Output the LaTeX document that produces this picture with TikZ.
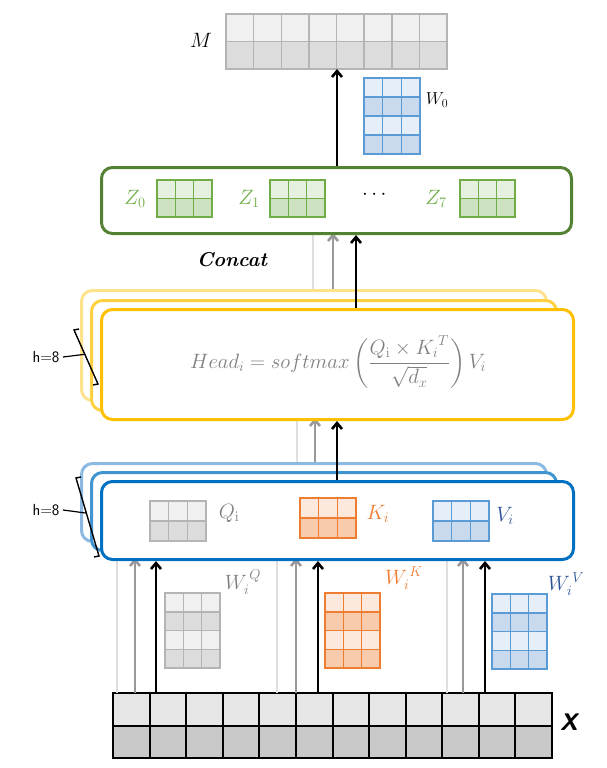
\documentclass[tikz,border=0pt]{standalone}
\usepackage{amsmath}
\usetikzlibrary{calc,arrows.meta}
\definecolor{gs}{HTML}{B4B4B4}\definecolor{g1}{HTML}{F0F0F0}\definecolor{g2}{HTML}{DCDCDC}
\definecolor{os}{HTML}{ED7D31}\definecolor{o1}{HTML}{FCE8DC}\definecolor{o2}{HTML}{F8CBAD}
\definecolor{bs}{HTML}{5B9BD5}\definecolor{b1}{HTML}{E6EEF9}\definecolor{b2}{HTML}{C9D9EE}
\definecolor{gr}{HTML}{70AD47}\definecolor{gr1}{HTML}{E6F0DE}\definecolor{gr2}{HTML}{CDE2C0}
\definecolor{grb}{HTML}{548235}\definecolor{yb}{HTML}{FFC000}\definecolor{bb}{HTML}{0070C0}
\definecolor{vb}{HTML}{2F5597}\definecolor{tx}{HTML}{808080}
\definecolor{xs1}{HTML}{E6E6E6}\definecolor{xs2}{HTML}{C8C8C8}
\newcommand\mygrid[7]{% name cols rows stroke fill1 fill2 width
 \foreach \r in {1,...,#3}{
  \pgfmathparse{isodd(\r)?"#5":"#6"}\edef\fc{\pgfmathresult}
  \fill[\fc] ($(#1.north west)!{(\r-1)/#3}!(#1.south west)$) rectangle ($(#1.north east)!{\r/#3}!(#1.south east)$);}
 \foreach \c in {1,...,#2}{\draw[#4,line width=#7] ($(#1.north west)!{\c/#2}!(#1.north east)$) -- ($(#1.south west)!{\c/#2}!(#1.south east)$);}
 \foreach \r in {1,...,#3}{\draw[#4,line width=#7] ($(#1.north west)!{\r/#3}!(#1.south west)$) -- ($(#1.north east)!{\r/#3}!(#1.south east)$);}
 \draw[#4,line width=#7] (#1.north west) rectangle (#1.south east);}
\tikzset{
 box/.style={draw,rounded corners=11pt,line width=3pt,fill=white,inner sep=0},
 mat/.style={inner sep=0,outer sep=0},
 arr/.style={line width=2.6pt,-{Straight Barb[length=6pt,width=10pt]}},
 blk/.style={arr,black}, gry/.style={arr,color=gray!80}, lgt/.style={line width=2.6pt,color=gray!25},
 big/.style={font=\fontsize{22}{24}\selectfont},
 mid/.style={font=\fontsize{18}{20}\selectfont},
 hl/.style={font=\sffamily\fontsize{16}{18}\selectfont},
}
\begin{document}
\begin{tikzpicture}[x=1pt,y=-1pt]
\useasboundingbox (0,0) rectangle (607,768);
% X
\node[mat,minimum width=439,minimum height=65,anchor=north west] (X) at (113,693) {};
\mygrid{X}{12}{2}{black}{xs1}{xs2}{2pt}
\node[font=\sffamily\bfseries\itshape\fontsize{24}{26}\selectfont] (XL) at (569,722) {X};
% blue boxes
\node[box,draw=bs!70,minimum width=465,minimum height=78,anchor=north west] (B3) at (80,462) {};
\node[box,draw=bb!75,minimum width=465,minimum height=78,anchor=north west] (B2) at (90,471) {};
\foreach \a/\b in {117/135,277/296,447/463}{
 \draw[lgt] ($(X.north west)+(\a-113,0)$) -- (\a,558);
 \draw[gry] ($(X.north west)+(\b-113,0)$) -- (\b,558);
}
\node[box,draw=bb,minimum width=472,minimum height=78,anchor=north west] (B1) at (100,480) {};
\foreach \c in {156,318,485}{\draw[blk] ($(X.north west)+(\c-113,0)$) -- (B1.south -| \c,0);}
% Q K V
\node[mat,minimum width=56,minimum height=40,anchor=north west] (Q) at (150,501) {};
\mygrid{Q}{3}{2}{gs}{g1}{g2}{1.5pt}
\node[text=tx,big] (QL) at (229,513) {$Q_{\mathrm{i}}$};
\node[mat,minimum width=56,minimum height=40,anchor=north west] (K) at (300,498) {};
\mygrid{K}{3}{2}{os}{o1}{o2}{1.5pt}
\node[text=os,big] (KL) at (378,514) {$K_i$};
\node[mat,minimum width=56,minimum height=40,anchor=north west] (V) at (433,501) {};
\mygrid{V}{3}{2}{bs}{b1}{b2}{1.5pt}
\node[text=vb,big] (VL) at (505,516) {$V_i$};
% W matrices
\node[mat,minimum width=55,minimum height=75,anchor=north west] (WQ) at (165,593) {};
\mygrid{WQ}{3}{4}{gs}{g1}{g2}{1.5pt}
\node[text=tx,big] (WQL) at (243,582) {$W_i^{\,Q}$};
\node[mat,minimum width=55,minimum height=75,anchor=north west] (WK) at (325,593) {};
\mygrid{WK}{3}{4}{os}{o1}{o2}{1.5pt}
\node[text=os,big] (WKL) at (404,578) {$W_i^{\,K}$};
\node[mat,minimum width=55,minimum height=75,anchor=north west] (WV) at (492,594) {};
\mygrid{WV}{3}{4}{bs}{b1}{b2}{1.5pt}
\node[text=vb,big] (WVL) at (566,584) {$W_i^{\,V}$};
% h=8 blue
\coordinate (bt) at (76,478); \coordinate (bb2) at (99,556);
\draw[line width=1.4pt] ($(bt)+(5,-1)$) -- (bt) -- (bb2) -- ($(bb2)+(-5,1)$);
\node[hl] (h2) at (46,510) {h=8};
\draw[line width=1.2pt] (h2.east) -- ($(bt)!0.45!(bb2)$);
% yellow boxes
\node[box,draw=yb!45,minimum width=465,minimum height=110,anchor=north west] (Y3) at (80,289) {};
\node[box,draw=yb!75,minimum width=465,minimum height=110,anchor=north west] (Y2) at (90,299) {};
\draw[lgt] (B3.north -| 297,0) -- (297,418);
\draw[gry] (B3.north -| 315,0) -- (315,418);
\node[box,draw=yb,minimum width=472,minimum height=110,anchor=north west] (Y1) at (100,308) {};
\draw[blk] (B1.north -| 337,0) -- (Y1.south -| 337,0);
\node[text=tx,big] (F) at (338,362) {$Head_i = softmax\left(\dfrac{Q_{\mathrm{i}}\times {K_i}^{T}}{\sqrt{d_x}}\right)V_i$};
\coordinate (yt) at (74,330); \coordinate (yb2) at (98,384);
\draw[line width=1.4pt] ($(yt)+(5,-1)$) -- (yt) -- (yb2) -- ($(yb2)+(-5,1)$);
\node[hl] (h1) at (46,357) {h=8};
\draw[line width=1.2pt] (h1.east) -- ($(yt)!0.45!(yb2)$);
% green box
\draw[lgt] (Y3.north -| 313,0) -- (313,233);
\draw[gry] (Y3.north -| 333,0) -- (333,233);
\node[box,draw=grb,minimum width=470,minimum height=66,anchor=north west] (G) at (100,166) {};
\draw[blk] (Y1.north -| 356,0) -- (G.south -| 356,0);
\node[font=\fontsize{20}{22}\selectfont\bfseries\itshape] (C) at (232,260) {Concat};
\foreach \n/\x/\l/\lx in {Z0/157/0/135,Z1/270/1/249,Z7/460/7/436}{
 \node[mat,minimum width=55,minimum height=37,anchor=north west] (\n) at (\x,180) {};
 \mygrid{\n}{3}{2}{gr}{gr1}{gr2}{1.5pt}
 \node[text=gr,big] at (\lx,199) {$Z_{\l}$};}
\node[font=\fontsize{22}{24}\selectfont\bfseries] (dots) at (376,195) {$\cdots$};
% M and W0
\node[mat,minimum width=221,minimum height=55,anchor=north west] (M) at (226,14) {};
\mygrid{M}{8}{2}{gs}{g1}{g2}{1.5pt}
\node[big] (ML) at (201,40) {$M$};
\node[mat,minimum width=56,minimum height=76,anchor=north west] (W0) at (364,78) {};
\mygrid{W0}{3}{4}{bs}{b1}{b2}{1.5pt}
\node[mid] (W0L) at (437,100) {$W_0$};
\draw[blk] (G.north -| 337,0) -- (M.south -| 337,0);
\end{tikzpicture}
\end{document}
